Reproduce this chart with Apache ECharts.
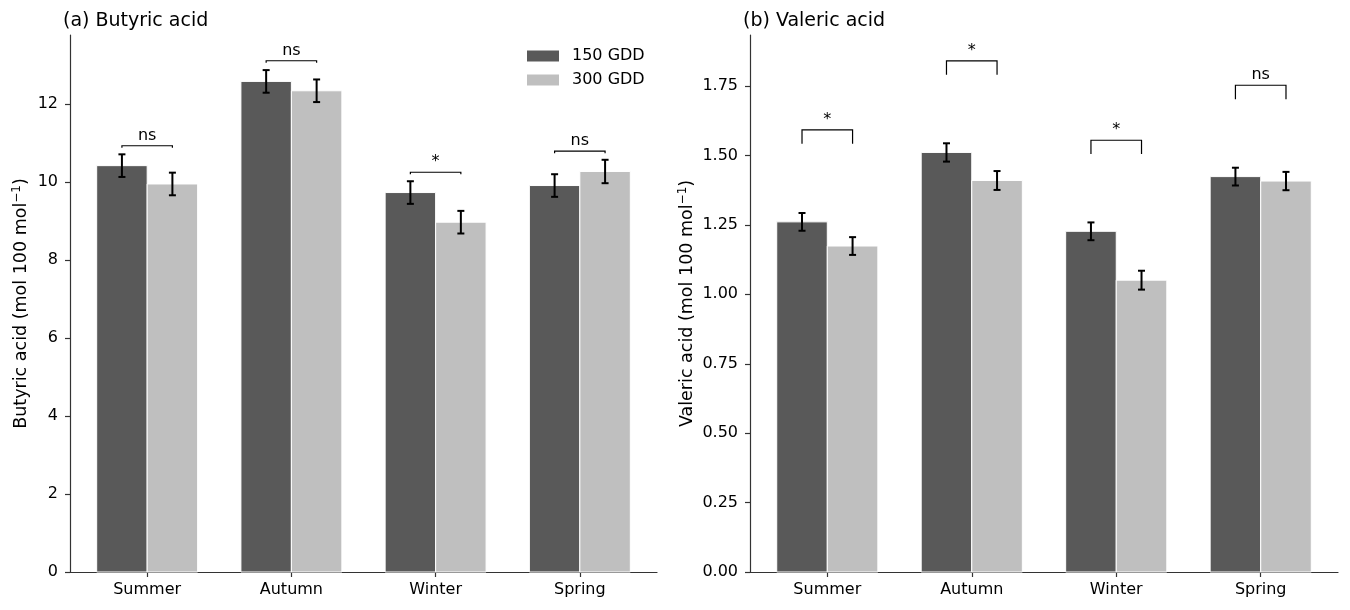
<!DOCTYPE html>
<html>
<head>
<meta charset="utf-8">
<script src="https://cdn.jsdelivr.net/npm/echarts@6/dist/echarts.min.js"></script>
<style>
  html, body { margin: 0; padding: 0; background: #fff; }
  #chart { width: 1350px; height: 610px; }
</style>
</head>
<body>
<div id="chart"></div>
<script>
// data
var seasons = ['Summer', 'Autumn', 'Winter', 'Spring'];
var groups = ['150 GDD', '300 GDD'];

var butyric150 = [10.42, 12.58, 9.73, 9.91];
var butyric150Se = [0.29, 0.29, 0.29, 0.29];
var butyric300 = [9.95, 12.34, 8.97, 10.27];
var butyric300Se = [0.29, 0.29, 0.29, 0.30];
var butyricSig = ['ns', 'ns', '*', 'ns'];
var butyricBracket = [10.93, 13.11, 10.25, 10.79];
var butyricTicks = [0, 2, 4, 6, 8, 10, 12];

var valeric150 = [1.261, 1.511, 1.227, 1.424];
var valeric150Se = [0.032, 0.033, 0.032, 0.032];
var valeric300 = [1.174, 1.410, 1.051, 1.408];
var valeric300Se = [0.032, 0.034, 0.034, 0.033];
var valericSig = ['*', '*', '*', 'ns'];
var valericBracket = [1.592, 1.841, 1.555, 1.753];
var valericTicks = [0, 0.25, 0.5, 0.75, 1.0, 1.25, 1.5, 1.75];

var seasonIdx = [0, 1, 2, 3];
var dark = '#595959';
var light = '#bfbfbf';
var axisColor = '#333';
var font = 'DejaVu Sans';
var barW = 0.35;

function barItem(offset) {
  return function (params, api) {
    var x = api.value(0);
    var p0 = api.coord([x + offset, api.value(1)]);
    var p1 = api.coord([x + offset + barW, 0]);
    return {
      type: 'rect',
      shape: { x: p0[0], y: p0[1], width: p1[0] - p0[0], height: p1[1] - p0[1] },
      style: { fill: api.visual('color'), stroke: '#fff', lineWidth: 1 }
    };
  };
}

function errItem(offset) {
  return function (params, api) {
    var x = api.value(0) + offset + barW / 2;
    var v = api.value(1), se = api.value(2);
    var top = api.coord([x, v + se]);
    var bot = api.coord([x, v - se]);
    var st = { stroke: '#000', lineWidth: 2 };
    return {
      type: 'group',
      children: [
        { type: 'line', shape: { x1: top[0], y1: top[1], x2: bot[0], y2: bot[1] }, style: st },
        { type: 'line', shape: { x1: top[0] - 3.5, y1: top[1], x2: top[0] + 3.5, y2: top[1] }, style: st },
        { type: 'line', shape: { x1: bot[0] - 3.5, y1: bot[1], x2: bot[0] + 3.5, y2: bot[1] }, style: st }
      ]
    };
  };
}

// significance bracket: legs drop to value(2), label above
function bracketItem(sigs) {
  return function (params, api) {
    var x = api.value(0), y = api.value(1);
    var b = api.coord([x - barW / 2, y]);
    var c = api.coord([x + barW / 2, y]);
    var legY = api.coord([x, api.value(2)])[1];
    return {
      type: 'group',
      children: [
        {
          type: 'polyline',
          shape: { points: [[b[0], legY], b, c, [c[0], legY]] },
          style: { stroke: '#000', lineWidth: 1.2, fill: null }
        },
        {
          type: 'text',
          style: {
            text: sigs[params.dataIndex], x: (b[0] + c[0]) / 2, y: b[1] - 2,
            align: 'center', verticalAlign: 'bottom',
            font: '16px "' + font + '"', fill: '#000'
          }
        }
      ]
    };
  };
}

function rows(vals, se) {
  return seasonIdx.map(function (i) { return [i, vals[i], se[i]]; });
}
function bracketRows(tops) {
  return seasonIdx.map(function (i) { return [i, tops[i], tops[i] - 0.05]; });
}

function xAxis(gi) {
  return {
    type: 'value', gridIndex: gi, min: -0.535, max: 3.535,
    axisLine: { show: true, onZero: false, lineStyle: { color: axisColor, width: 1.2 } },
    axisTick: { show: true, length: 5, customValues: seasonIdx, lineStyle: { color: axisColor, width: 1.2 } },
    axisLabel: {
      customValues: seasonIdx, margin: 10, color: '#000', fontSize: 16, fontFamily: font,
      formatter: function (v) { return seasons[Math.round(v)]; }
    },
    splitLine: { show: false }
  };
}

function yAxis(gi, max, ticks, digits, name, gap) {
  return {
    type: 'value', gridIndex: gi, min: 0, max: max,
    name: name, nameLocation: 'middle', nameGap: gap,
    nameTextStyle: {
      color: '#000', fontSize: 17.5, lineHeight: 20, fontFamily: font,
      rich: { sup: { fontSize: 12, lineHeight: 12, verticalAlign: 'top', color: '#000', fontFamily: font } }
    },
    axisLine: { show: true, onZero: false, lineStyle: { color: axisColor, width: 1.2 } },
    axisTick: { show: true, length: 5, customValues: ticks, lineStyle: { color: axisColor, width: 1.2 } },
    axisLabel: {
      customValues: ticks, margin: 12, color: '#000', fontSize: 16, fontFamily: font,
      formatter: function (v) { return v.toFixed(digits); }
    },
    splitLine: { show: false }
  };
}

var myChart = echarts.init(document.getElementById('chart'));
var option = {
  animation: false,
  color: [dark, light],
  textStyle: { fontFamily: font },
  title: [
    { text: '(a) Butyric acid', left: 63, top: 12, padding: 0, textStyle: { fontSize: 19, fontWeight: 'normal', color: '#000', fontFamily: font } },
    { text: '(b) Valeric acid', left: 743, top: 12, padding: 0, textStyle: { fontSize: 19, fontWeight: 'normal', color: '#000', fontFamily: font } }
  ],
  legend: {
    data: groups, orient: 'vertical', left: 527, top: 48, padding: 0,
    icon: 'rect', itemWidth: 32, itemHeight: 11, itemGap: 8,
    textStyle: { fontSize: 16, lineHeight: 16, color: '#000', fontFamily: font, padding: [0, 0, 0, 8] },
    selectedMode: false
  },
  grid: [
    { left: 70, top: 35, width: 587, height: 537 },
    { left: 750, top: 35, width: 588, height: 537 }
  ],
  xAxis: [xAxis(0), xAxis(1)],
  yAxis: [
    yAxis(0, 13.77, butyricTicks, 0, 'Butyric acid (mol 100 mol{sup|−1})', 39),
    yAxis(1, 1.934, valericTicks, 2, 'Valeric acid (mol 100 mol{sup|−1})', 53)
  ],
  series: [
    { name: groups[0], type: 'custom', xAxisIndex: 0, yAxisIndex: 0, itemStyle: { color: dark }, renderItem: barItem(-barW), data: rows(butyric150, butyric150Se) },
    { name: groups[1], type: 'custom', xAxisIndex: 0, yAxisIndex: 0, itemStyle: { color: light }, renderItem: barItem(0), data: rows(butyric300, butyric300Se) },
    { type: 'custom', xAxisIndex: 0, yAxisIndex: 0, renderItem: errItem(-barW), data: rows(butyric150, butyric150Se), z: 3 },
    { type: 'custom', xAxisIndex: 0, yAxisIndex: 0, renderItem: errItem(0), data: rows(butyric300, butyric300Se), z: 3 },
    { type: 'custom', xAxisIndex: 0, yAxisIndex: 0, renderItem: bracketItem(butyricSig), data: bracketRows(butyricBracket), z: 3 },

    { name: groups[0], type: 'custom', xAxisIndex: 1, yAxisIndex: 1, itemStyle: { color: dark }, renderItem: barItem(-barW), data: rows(valeric150, valeric150Se) },
    { name: groups[1], type: 'custom', xAxisIndex: 1, yAxisIndex: 1, itemStyle: { color: light }, renderItem: barItem(0), data: rows(valeric300, valeric300Se) },
    { type: 'custom', xAxisIndex: 1, yAxisIndex: 1, renderItem: errItem(-barW), data: rows(valeric150, valeric150Se), z: 3 },
    { type: 'custom', xAxisIndex: 1, yAxisIndex: 1, renderItem: errItem(0), data: rows(valeric300, valeric300Se), z: 3 },
    { type: 'custom', xAxisIndex: 1, yAxisIndex: 1, renderItem: bracketItem(valericSig), data: bracketRows(valericBracket), z: 3 }
  ]
};
myChart.setOption(option);
</script>
</body>
</html>
